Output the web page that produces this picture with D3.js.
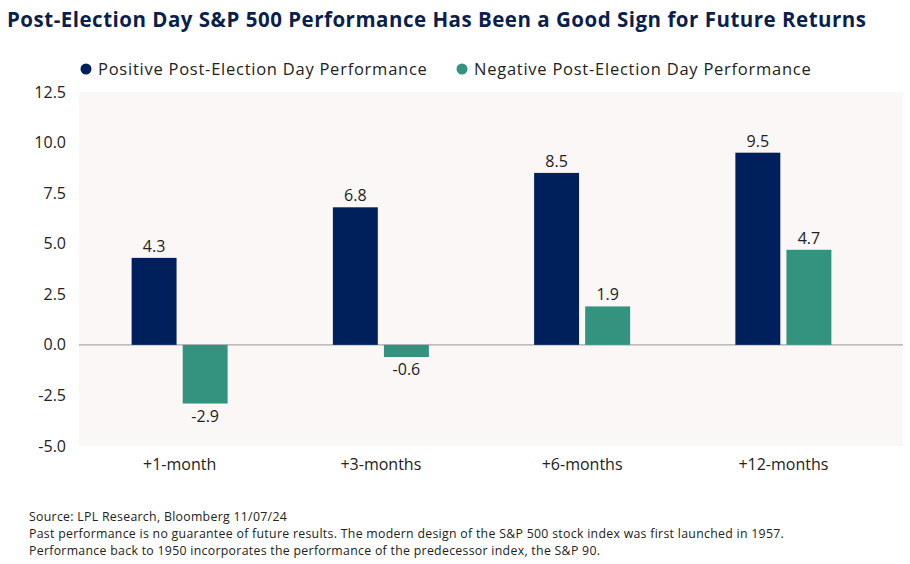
<!DOCTYPE html>
<html>
<head>
<meta charset="utf-8">
<script src="https://cdn.jsdelivr.net/npm/d3@7"></script>
<style>
  body { margin: 0; background: #fff; }
  svg { display: block; font-family: "Open Sans", "Noto Sans", sans-serif; }
</style>
</head>
<body>
<script>
var categories = ["+1-month", "+3-months", "+6-months", "+12-months"];
var seriesNames = ["Positive Post-Election Day Performance", "Negative Post-Election Day Performance"];
var positiveValues = [4.3, 6.8, 8.5, 9.5];
var negativeValues = [-2.9, -0.6, 1.9, 4.7];
var yTicks = [-5.0, -2.5, 0.0, 2.5, 5.0, 7.5, 10.0, 12.5];
var footnotes = [
    "Source: LPL Research, Bloomberg 11/07/24",
    "Past performance is no guarantee of future results. The modern design of the S&P 500 stock index was first launched in 1957.",
    "Performance back to 1950 incorporates the performance of the predecessor index, the S&P 90."
];

(function() {
    var width = 910, height = 564;
    var plot = {left: 79, right: 903, top: 92, bottom: 446};
    var colors = ["#00205b", "#33937f"];
    var fmt = d3.formatLocale({decimal: ".", thousands: ",", grouping: [3], currency: ["", ""], minus: "-"}).format(".1f");

    var svg = d3.select("body").append("svg")
        .attr("width", width)
        .attr("height", height);

    svg.append("text")
        .attr("x", 7)
        .attr("y", 27)
        .attr("font-size", 20.5)
        .attr("font-weight", 700)
        .attr("letter-spacing", 0.5)
        .attr("fill", "#0b1f4d")
        .text("Post-Election Day S&P 500 Performance Has Been a Good Sign for Future Returns");

    // legend
    var legendX = [86, 462];
    var legend = svg.selectAll(".legend")
        .data(seriesNames)
        .enter().append("g")
        .attr("class", "legend")
        .attr("transform", (d, i) => `translate(${legendX[i]},69)`);
    legend.append("circle")
        .attr("r", 5.5)
        .attr("fill", (d, i) => colors[i]);
    legend.append("text")
        .attr("x", 12)
        .attr("y", 6)
        .attr("font-size", 16.5)
        .attr("letter-spacing", 0.75)
        .attr("fill", "#222")
        .text(d => d);

    var data = categories.map((c, i) => ({
        category: c,
        values: [positiveValues[i], negativeValues[i]]
    }));

    var x0 = d3.scaleBand()
        .domain(categories)
        .range([plot.left, 884]);
    var groupWidth = 96;
    var x1 = d3.scaleBand()
        .domain([0, 1])
        .range([0, groupWidth])
        .paddingInner(0.12);
    var y = d3.scaleLinear()
        .domain([-5, 12.5])
        .range([plot.bottom, plot.top]);

    svg.append("rect")
        .attr("x", plot.left)
        .attr("y", plot.top)
        .attr("width", plot.right - plot.left)
        .attr("height", plot.bottom - plot.top)
        .attr("fill", "#faf7f6");

    var yAxis = svg.append("g")
        .attr("transform", `translate(${plot.left},0)`)
        .call(d3.axisLeft(y).tickValues(yTicks).tickFormat(fmt).tickSize(0).tickPadding(13));
    yAxis.select(".domain").remove();
    yAxis.selectAll("text")
        .attr("font-size", 16)
        .attr("font-family", "'Open Sans', sans-serif")
        .attr("fill", "#222");

    svg.append("line")
        .attr("x1", plot.left)
        .attr("x2", plot.right)
        .attr("y1", y(0))
        .attr("y2", y(0))
        .attr("stroke", "#a8a8a8")
        .attr("stroke-width", 1.2);

    var groups = svg.selectAll(".group")
        .data(data)
        .enter().append("g")
        .attr("class", "group")
        .attr("transform", d => `translate(${x0(d.category) + x0.bandwidth() / 2 - groupWidth / 2},0)`);

    var bars = groups.selectAll("g.bar")
        .data(d => d.values.map((v, i) => ({v: v, i: i})))
        .enter().append("g")
        .attr("class", "bar");

    bars.append("rect")
        .attr("x", d => x1(d.i))
        .attr("width", x1.bandwidth())
        .attr("y", d => y(Math.max(0, d.v)))
        .attr("height", d => Math.abs(y(d.v) - y(0)))
        .attr("fill", d => colors[d.i]);

    bars.append("text")
        .attr("x", d => x1(d.i) + x1.bandwidth() / 2)
        .attr("y", d => d.v >= 0 ? y(d.v) - 6 : y(d.v) + 18)
        .attr("text-anchor", "middle")
        .attr("font-size", 16)
        .attr("fill", "#222")
        .text(d => fmt(d.v));

    var xAxis = svg.append("g")
        .attr("transform", `translate(0,${plot.bottom})`)
        .call(d3.axisBottom(x0).tickSize(0).tickPadding(13));
    xAxis.select(".domain").remove();
    xAxis.selectAll("text")
        .attr("font-size", 16)
        .attr("font-family", "'Open Sans', sans-serif")
        .attr("fill", "#222");

    svg.selectAll(".footnote")
        .data(footnotes)
        .enter().append("text")
        .attr("class", "footnote")
        .attr("x", 29)
        .attr("y", (d, i) => 521 + i * 17)
        .attr("font-size", 12.3)
        .attr("letter-spacing", 0.3)
        .attr("fill", "#222")
        .text(d => d);
})();
</script>
</body>
</html>
